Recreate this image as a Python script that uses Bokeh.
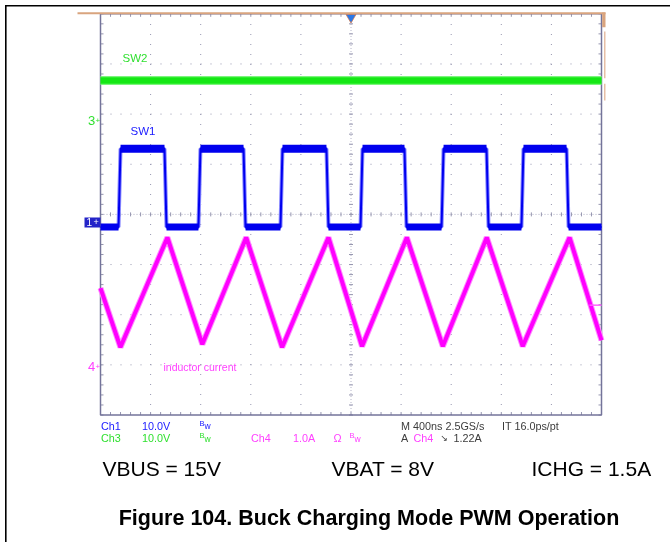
import numpy as np
from bokeh.plotting import figure
from bokeh.models import Range1d, Label
from bokeh.embed import file_html
from bokeh.resources import INLINE

# ---------------- data ----------------
TIME_PER_DIV_NS = 400          # M 400ns
CH1_V_PER_DIV = 10.0           # SW1
CH3_V_PER_DIV = 10.0           # SW2
CH4_A_PER_DIV = 1.0            # inductor current
CH1_POS_DIV = -0.16            # ground marker positions (divisions from centre)
CH3_POS_DIV = 1.87
CH4_POS_DIV = -3.03

SW1_RISE_NS = [-1848, -1210, -555, 84, 731, 1369]
SW1_FALL_NS = [-1481, -850, -188, 435, 1090, 1729]
SW1_HIGH_V = 14.7
SW1_LOW_V = -0.9
SW2_V = 8.0

IL_T_NS = [-2000, -1841, -1466, -1187, -837, -550, -180, 88, 446, 733, 1084, 1371, 1745, 2000]
IL_A = [1.56, 0.38, 2.57, 0.44, 2.57, 0.38, 2.57, 0.40, 2.57, 0.40, 2.57, 0.40, 2.57, 0.52]
TRIG_LEVEL_A = 1.22

CAPTIONS = ["VBUS = 15V", "VBAT = 8V", "ICHG = 1.5A"]
TITLE = "Figure 104. Buck Charging Mode PWM Operation"

# ---------------- layout ----------------
W, H = 670, 542
GL, GR, GT, GB = 100.0, 601.0, 13.3, 414.5     # scope graticule in page pixels
NX, NY = 10, 8
PXD_X = (GR - GL) / NX
PXD_Y = (GB - GT) / NY
T_HALF = NX / 2 * TIME_PER_DIV_NS
Y_HALF = NY / 2


def tx(px):
    return (px - (GL + GR) / 2) / PXD_X * TIME_PER_DIV_NS


def ty(py):
    return ((GT + GB) / 2 - py) / PXD_Y


def dx(npx):
    return npx / PXD_X * TIME_PER_DIV_NS


def dy(npx):
    return npx / PXD_Y


def ch1(v):
    return CH1_POS_DIV + np.asarray(v, dtype=float) / CH1_V_PER_DIV


def ch3(v):
    return CH3_POS_DIV + np.asarray(v, dtype=float) / CH3_V_PER_DIV


def ch4(a):
    return CH4_POS_DIV + np.asarray(a, dtype=float) / CH4_A_PER_DIV


p = figure(width=W, height=H, x_range=Range1d(tx(0), tx(W)), y_range=Range1d(ty(H), ty(0)),
           output_backend="svg", toolbar_location=None, x_axis_type=None, y_axis_type=None,
           min_border=0, outline_line_color=None, background_fill_color="white",
           border_fill_color="white",
           styles={"position": "fixed", "left": "0px", "top": "0px", "margin": "0px"})

GRID_C = "#9696b0"
BORDER_C = "#74749a"

# dotted graticule (major divisions, dots every minor division)
xt_major = np.array([i * TIME_PER_DIV_NS for i in range(-NX // 2 + 1, NX // 2) if i != 0], dtype=float)
yt_major = np.array([i for i in range(-NY // 2 + 1, NY // 2) if i != 0], dtype=float)
p.segment(x0=xt_major, y0=-Y_HALF, x1=xt_major, y1=Y_HALF,
          line_color=GRID_C, line_dash="1 9", line_width=1)
p.segment(x0=-T_HALF, y0=yt_major, x1=T_HALF, y1=yt_major,
          line_color=GRID_C, line_dash="1 9", line_width=1)

# centre cross
p.line([0, 0], [-Y_HALF, Y_HALF], line_color="#b4b4c8", line_dash="1 2", line_width=1)
p.line([-T_HALF, T_HALF], [0, 0], line_color="#b4b4c8", line_dash="1 2", line_width=1)
minor_t = np.arange(-T_HALF, T_HALF + 1, TIME_PER_DIV_NS / 5)
minor_y = np.arange(-Y_HALF, Y_HALF + 1e-9, 0.2)
p.segment(x0=minor_t, y0=-dy(2), x1=minor_t, y1=dy(2), line_color=GRID_C, line_width=1)
p.segment(x0=-dx(2), y0=minor_y, x1=dx(2), y1=minor_y, line_color=GRID_C, line_width=1)

# border ticks
p.segment(x0=minor_t, y0=Y_HALF, x1=minor_t, y1=Y_HALF - dy(3), line_color=GRID_C, line_width=1)
p.segment(x0=minor_t, y0=-Y_HALF, x1=minor_t, y1=-Y_HALF + dy(3), line_color=GRID_C, line_width=1)
p.segment(x0=-T_HALF, y0=minor_y, x1=-T_HALF + dx(3), y1=minor_y, line_color=GRID_C, line_width=1)
p.segment(x0=T_HALF, y0=minor_y, x1=T_HALF - dx(3), y1=minor_y, line_color=GRID_C, line_width=1)

# graticule border
p.line([-T_HALF, T_HALF, T_HALF, -T_HALF, -T_HALF], [Y_HALF, Y_HALF, -Y_HALF, -Y_HALF, Y_HALF],
       line_color=BORDER_C, line_width=1.5)

# ---------------- traces ----------------
# SW2 (ch3, green)
p.line([-T_HALF, T_HALF], ch3([SW2_V, SW2_V]), line_color="#7cf57c", line_width=9)
p.line([-T_HALF, T_HALF], ch3([SW2_V, SW2_V]), line_color="#14e814", line_width=6.5)

# SW1 (ch1, blue)
TR = 16  # edge transition time, ns
sx, sy = [-T_HALF], [SW1_LOW_V]
for r, f in zip(SW1_RISE_NS, SW1_FALL_NS):
    sx += [r - TR / 2, r + TR / 2, f - TR / 2, f + TR / 2]
    sy += [SW1_LOW_V, SW1_HIGH_V, SW1_HIGH_V, SW1_LOW_V]
sx.append(T_HALF)
sy.append(SW1_LOW_V)
p.line(sx, ch1(sy), line_color="#8a8aff", line_width=4)
p.line(sx, ch1(sy), line_color="#0000f0", line_width=2)
low_x0 = [-T_HALF] + [f + TR / 2 for f in SW1_FALL_NS]
low_x1 = [r - TR / 2 for r in SW1_RISE_NS] + [T_HALF]
p.segment(x0=low_x0, y0=ch1([SW1_LOW_V] * len(low_x0)), x1=low_x1, y1=ch1([SW1_LOW_V] * len(low_x1)),
          line_color="#0000ee", line_width=7)
p.segment(x0=[r + TR / 2 for r in SW1_RISE_NS], y0=ch1([SW1_HIGH_V] * len(SW1_RISE_NS)),
          x1=[f - TR / 2 for f in SW1_FALL_NS], y1=ch1([SW1_HIGH_V] * len(SW1_FALL_NS)),
          line_color="#0000ee", line_width=8)

# inductor current (ch4, magenta)
p.line(IL_T_NS, ch4(IL_A), line_color="#ff8cff", line_width=6)
p.line(IL_T_NS, ch4(IL_A), line_color="#ff00ff", line_width=4)

# trigger markers
p.segment(x0=[T_HALF - dx(12)], y0=ch4([TRIG_LEVEL_A]), x1=[T_HALF], y1=ch4([TRIG_LEVEL_A]),
          line_color="#ff60ff", line_width=1.5)
p.scatter([0], [Y_HALF - dy(3.5)], marker="inverted_triangle", size=10,
          fill_color="#2a78e8", line_color="#d07040", line_width=0.7)

# ground marker box for channel 1
p.quad(left=[-T_HALF - dx(16)], right=[-T_HALF], top=ch1([0]) + dy(5), bottom=ch1([0]) - dy(5),
       fill_color="#2424c8", line_color=None)

SCOPE_FONT = "Liberation Sans"


def lab(px, py, text, color, size, font=SCOPE_FONT, style="normal", align="left"):
    p.add_layout(Label(x=tx(px), y=ty(py), text=text, text_color=color,
                       text_font_size=f"{size}px", text_font=font, text_font_style=style,
                       text_align=align, text_baseline="middle"))


def lab_data(px, ydata, text, color, size, font=SCOPE_FONT, align="left"):
    p.add_layout(Label(x=tx(px), y=ydata, text=text, text_color=color, text_font_size=f"{size}px",
                       text_font=font, text_align=align, text_baseline="middle"))


lab_data(86, float(ch1(0)), "1", "white", 10)
lab_data(93, float(ch1(0)), "+", "white", 9)
lab_data(87.5, float(ch3(0)), "3", "#30e030", 13)
lab_data(95, float(ch3(0)), "+", "#30e030", 8)
lab_data(87.5, float(ch4(0)), "4", "#ff40ff", 13)
lab_data(95, float(ch4(0)), "+", "#ff40ff", 8)

lab(122, 57, "SW2", "#30e030", 11.5)
lab(130, 130, "SW1", "#1a1aff", 11.5)
lab(163, 366, "inductor current", "#ff40ff", 10.5)

# status lines
R1, R2 = 425, 437.5
BLUE, GREEN, MAG, GRAY = "#1a1aff", "#30e030", "#ff40ff", "#3c3c3c"
FS = 10.8
lab(100.5, R1, "Ch1", BLUE, FS)
lab(141.5, R1, "10.0V", BLUE, FS)
lab(199, R1 - 2.5, "B", BLUE, 7.5)
lab(204, R1 + 0.5, "w", BLUE, 8.5)
lab(100.5, R2, "Ch3", GREEN, FS)
lab(141.5, R2, "10.0V", GREEN, FS)
lab(199, R2 - 2.5, "B", GREEN, 7.5)
lab(204, R2 + 0.5, "w", GREEN, 8.5)
lab(250.5, R2, "Ch4", MAG, FS)
lab(292.5, R2, "1.0A", MAG, FS)
lab(333, R2, "Ω", MAG, FS)
lab(349, R2 - 2.5, "B", MAG, 7.5)
lab(354, R2 + 0.5, "w", MAG, 8.5)
lab(400.5, R1, "M 400ns 2.5GS/s", GRAY, FS)
lab(501.5, R1, "IT 16.0ps/pt", GRAY, FS)
lab(400.5, R2, "A", GRAY, FS)
lab(413, R2, "Ch4", MAG, FS)
lab(440, R2, "\u2198", GRAY, 9, font="DejaVu Sans")
lab(453, R2, "1.22A", GRAY, FS)

# ---------------- page decorations ----------------
p.line([tx(77), tx(605)], [ty(12.8), ty(12.8)], line_color="#d9a47e", line_width=2)
p.quad(left=[tx(601.7)], right=[tx(605)], top=[ty(12)], bottom=[ty(26.7)], fill_color="#d9a47e", line_color=None)
p.segment(x0=[tx(604.3), tx(604.3)], y0=[ty(31), ty(83.3)], x1=[tx(604.3), tx(604.3)], y1=[ty(77.7), ty(100)],
          line_color="#e0b090", line_width=1.2)
p.line([tx(4.5), tx(W)], [ty(5.3), ty(5.3)], line_color="black", line_width=1.6)
p.line([tx(5.3), tx(5.3)], [ty(4.5), ty(H)], line_color="black", line_width=1.6)

# captions
CAP_X = [102, 331, 531]
for cx, txt in zip(CAP_X, CAPTIONS):
    lab(cx, 468, txt, "black", 21, font="Liberation Sans")
lab(368.5, 517, TITLE, "black", 21.5, font="Liberation Sans", style="bold", align="center")

open("out.html", "w").write(file_html(p, INLINE))
